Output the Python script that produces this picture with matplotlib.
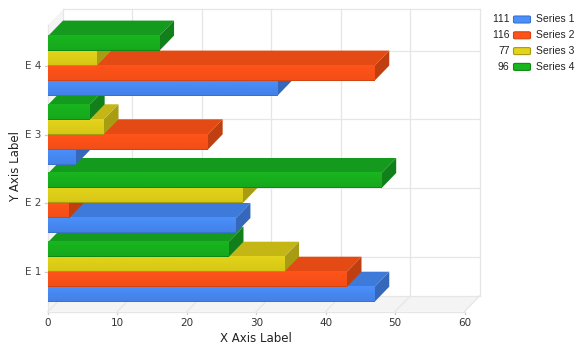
import numpy as np
import matplotlib
matplotlib.use('Agg')
import matplotlib.pyplot as plt
from matplotlib.patches import Polygon, FancyBboxPatch

categories = ['E 1', 'E 2', 'E 3', 'E 4']
series_names = ['Series 1', 'Series 2', 'Series 3', 'Series 4']
series1 = [47, 27, 4, 33]
series2 = [43, 3, 23, 47]
series3 = [34, 28, 8, 7]
series4 = [26, 48, 6, 16]
totals = [111, 116, 77, 96]
xticks = [0, 10, 20, 30, 40, 50, 60]

front_top = ['#4a8ffb', '#ff5319', '#e3d31a', '#19b51f']
front_bot = ['#4381e6', '#f24e17', '#d6c716', '#16a81c']
top_cols = ['#3e7ad9', '#e34a14', '#c4b715', '#149b1d']
side_cols = ['#3567bb', '#bf3f10', '#a89c12', '#11801a']
edge_cols = ['#3a72cf', '#d24412', '#a89a10', '#0f8a14']

grid = '#e6e6e6'
depth_x = 15 / 6.94
depth_y = 15.5 / 68.7
bar_h = 15 / 68.7

plt.rcParams['font.family'] = ['DejaVu Sans']
plt.rcParams['text.kerning_factor'] = 6
fig = plt.figure(figsize=(5.84, 3.52), dpi=100)
ax = fig.add_axes([48 / 584, 1 - 311.5 / 352, 416.5 / 584, 286.5 / 352])
ax.set_xlim(0, 60)
ax.set_ylim(0.428, 4.598)
ax.axis('off')

y0, y1 = ax.get_ylim()


def poly(pts, col, z=1):
    ax.add_patch(Polygon(pts, closed=True, facecolor=col, edgecolor='none', linewidth=0,
                         zorder=z, clip_on=False))


# floor and left wall
poly([(0, y0), (60, y0), (60 + depth_x, y0 + depth_y), (depth_x, y0 + depth_y)], '#f4f4f4')
poly([(0, y0), (depth_x, y0 + depth_y), (depth_x, y1 + depth_y), (0, y1)], '#f4f4f4')

# grid on back wall and floor
for t in xticks:
    ax.plot([t, t + depth_x], [y0, y0 + depth_y], color=grid, lw=0.9, zorder=2, clip_on=False)
    ax.plot([t + depth_x] * 2, [y0 + depth_y, y1 + depth_y], color=grid, lw=0.9, zorder=2, clip_on=False)
    ax.plot([t, t], [y0, y0 - 0.03], color='#cccccc', lw=0.9, zorder=2, clip_on=False)
    ax.text(t, y0 - 0.09, str(t), ha='center', va='top', fontsize=7.5, color='#333333')
for i, c in enumerate(categories):
    yy = i + 1
    ax.plot([depth_x, 60 + depth_x], [yy + depth_y] * 2, color=grid, lw=0.9, zorder=2, clip_on=False)
    ax.plot([0, depth_x], [yy, yy + depth_y], color=grid, lw=0.9, zorder=2, clip_on=False)
    ax.plot([-0.5, 0], [yy, yy], color='#cccccc', lw=0.9, zorder=2, clip_on=False)
    ax.text(-0.9, yy, c, ha='right', va='center', fontsize=7.5, color='#444444')
ax.plot([0, 60], [y0, y0], color=grid, lw=0.9, zorder=2, clip_on=False)
ax.plot([depth_x, 60 + depth_x], [y0 + depth_y] * 2, color=grid, lw=0.9, zorder=2, clip_on=False)
ax.plot([depth_x, 60 + depth_x], [y1 + depth_y] * 2, color=grid, lw=0.9, zorder=2, clip_on=False)
ax.plot([0, 0], [y0, y1], color=grid, lw=0.9, zorder=2, clip_on=False)

# bars, bottom group first, each series sits on the one below it
all_series = [series1, series2, series3, series4]
z = 3
for i in range(len(categories)):
    for s, vals in enumerate(all_series):
        v = vals[i]
        b = i + 1 - 2 * bar_h + s * bar_h
        t = b + bar_h
        poly([(0, t), (v, t), (v + depth_x, t + depth_y), (depth_x, t + depth_y)], top_cols[s], z)
        poly([(v, b), (v + depth_x, b + depth_y), (v + depth_x, t + depth_y), (v, t)], side_cols[s], z)
        grad = np.linspace(0, 1, 15)[:, None]
        c1 = np.array(matplotlib.colors.to_rgb(front_top[s]))
        c2 = np.array(matplotlib.colors.to_rgb(front_bot[s]))
        img = (c1 * (1 - grad) + c2 * grad).reshape(15, 1, 3)
        img[-1, 0, :] = matplotlib.colors.to_rgb(edge_cols[s])
        ax.imshow(img, extent=(0, v, b, t), aspect='auto', origin='upper', zorder=z, clip_on=False)
        z += 1
ax.set_xlim(0, 60)
ax.set_ylim(y0, y1)

fig.text(256 / 584, 1 - 338 / 352, 'X Axis Label', ha='center', va='center', fontsize=8.5, color='#222222')
fig.text(16 / 584, 1 - 166 / 352, 'Y Axis Label', ha='center', va='center', rotation=90, fontsize=8.5, color='#222222')

# legend
for s, name in enumerate(series_names):
    yy = 19.5 + s * 15.8
    fig.text(509.5 / 584, 1 - yy / 352, str(totals[s]), ha='right', va='center', fontsize=7.5,
             family='Liberation Sans', color='#222222')
    fig.patches.append(FancyBboxPatch((513.5 / 584, 1 - (yy + 3.5) / 352), 17 / 584, 7 / 352,
                                      boxstyle='round,pad=0,rounding_size=0.003', transform=fig.transFigure,
                                      facecolor=front_top[s], edgecolor=edge_cols[s], linewidth=0.8))
    fig.text(536.5 / 584, 1 - yy / 352, name, ha='left', va='center', fontsize=7.5,
             family='Liberation Sans', color='#222222')

fig.savefig('out.png', dpi=100)
